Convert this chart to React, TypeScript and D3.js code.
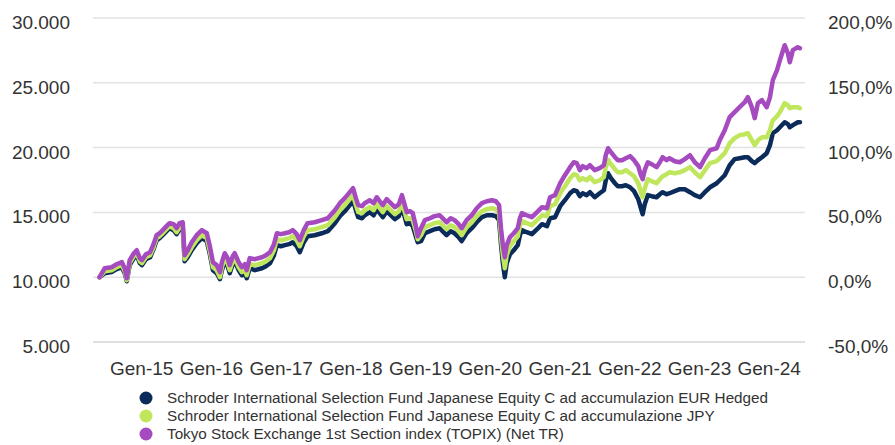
import * as d3 from "d3";
import { useEffect, useRef } from "react";

// daily NAV samples (base 10.000)
const dates = [
  "2014-05-25", "2014-06-21", "2014-07-27", "2014-08-23", "2014-09-19", "2014-10-04", "2014-10-15", "2014-10-30",
  "2014-11-21", "2014-12-06", "2014-12-22", "2015-01-02", "2015-01-23", "2015-02-14", "2015-03-04", "2015-03-20",
  "2015-04-05", "2015-04-21", "2015-05-11", "2015-05-27", "2015-06-17", "2015-07-03", "2015-07-18", "2015-08-04",
  "2015-08-14", "2015-08-30", "2015-09-20", "2015-10-16", "2015-11-12", "2015-12-08", "2015-12-23", "2016-01-09",
  "2016-01-29", "2016-02-15", "2016-02-25", "2016-03-11", "2016-03-26", "2016-04-06", "2016-04-22", "2016-05-02",
  "2016-05-23", "2016-06-09", "2016-06-24", "2016-07-04", "2016-07-20", "2016-08-16", "2016-09-22", "2016-10-13",
  "2016-11-03", "2016-11-24", "2016-12-09", "2016-12-30", "2017-01-20", "2017-02-11", "2017-03-02", "2017-03-23",
  "2017-04-08", "2017-04-29", "2017-05-19", "2017-06-25", "2017-08-01", "2017-09-02", "2017-10-09", "2017-11-04",
  "2017-11-30", "2017-12-26", "2018-01-12", "2018-01-27", "2018-02-08", "2018-02-28", "2018-03-14", "2018-04-10",
  "2018-04-30", "2018-05-16", "2018-06-01", "2018-06-17", "2018-07-07", "2018-07-23", "2018-08-19", "2018-09-09",
  "2018-09-25", "2018-10-10", "2018-10-20", "2018-11-06", "2018-11-21", "2018-12-07", "2018-12-17", "2019-01-03",
  "2019-01-23", "2019-02-19", "2019-03-15", "2019-04-11", "2019-05-01", "2019-05-17", "2019-06-08", "2019-06-28",
  "2019-07-19", "2019-08-04", "2019-08-30", "2019-09-26", "2019-10-22", "2019-11-18", "2019-12-14", "2020-01-10",
  "2020-01-30", "2020-02-16", "2020-02-26", "2020-03-07", "2020-03-17", "2020-03-27", "2020-04-13", "2020-05-03",
  "2020-05-24", "2020-06-04", "2020-06-14", "2020-07-10", "2020-08-06", "2020-09-02", "2020-09-28", "2020-10-24",
  "2020-11-09", "2020-12-05", "2021-01-01", "2021-01-26", "2021-02-22", "2021-03-13", "2021-03-29", "2021-04-14",
  "2021-04-29", "2021-05-20", "2021-06-06", "2021-07-01", "2021-07-27", "2021-08-18", "2021-08-28", "2021-09-09",
  "2021-09-24", "2021-10-15", "2021-10-30", "2021-11-21", "2021-12-11", "2022-01-02", "2022-01-23", "2022-02-14",
  "2022-02-28", "2022-03-09", "2022-03-20", "2022-04-05", "2022-04-25", "2022-05-21", "2022-06-07", "2022-06-22",
  "2022-07-13", "2022-07-28", "2022-08-24", "2022-09-20", "2022-10-16", "2022-11-12", "2022-12-07", "2023-01-04",
  "2023-01-29", "2023-02-25", "2023-04-01", "2023-04-17", "2023-05-13", "2023-06-08", "2023-07-04", "2023-07-30",
  "2023-08-26", "2023-09-11", "2023-10-02", "2023-10-17", "2023-11-03", "2023-11-24", "2023-12-19", "2024-01-05",
  "2024-01-20", "2024-02-11", "2024-02-26", "2024-03-22", "2024-04-08", "2024-04-18", "2024-05-04", "2024-05-30",
  "2024-06-10",
];

const eurHedged = [
  10000, 10310, 10390, 10620, 10770, 10310, 9690, 10930, 11470, 11700, 11080, 10930, 11390, 11540, 12160, 12850,
  13010, 13240, 13550, 13780, 13630, 13320, 13700, 13780, 11230, 11540, 12080, 12620, 13010, 12780, 11850, 10540,
  10310, 9850, 10540, 11230, 10850, 10310, 11000, 11230, 10540, 10150, 10310, 9920, 10690, 10540, 10690, 10850,
  11080, 11700, 12470, 12390, 12470, 12550, 12700, 12390, 11930, 12700, 13160, 13240, 13390, 13550, 14170, 14710,
  15090, 15560, 15940, 15170, 14630, 14550, 14780, 15020, 14780, 15250, 14940, 14630, 15090, 14860, 14480, 14710,
  15400, 14630, 14090, 14170, 13940, 13160, 12700, 12780, 13390, 13550, 13700, 13780, 13470, 13240, 13550, 13390,
  13090, 12780, 13390, 13780, 14240, 14630, 14780, 14780, 14710, 14400, 12550, 11080, 10000, 11080, 11770, 12080,
  12470, 13240, 13630, 13470, 13320, 13700, 14090, 13940, 14550, 14630, 15480, 15940, 16480, 16710, 16640, 16250,
  16480, 16330, 16560, 16170, 16480, 16710, 17480, 18020, 17640, 17250, 17020, 17020, 17100, 16940, 16640, 16020,
  15320, 14860, 15630, 16330, 16250, 16170, 16400, 16560, 16400, 16480, 16640, 16790, 16790, 16560, 16330, 16170,
  16560, 16940, 17250, 17480, 17870, 18640, 19110, 19180, 19260, 19260, 18950, 18800, 19030, 19260, 19570, 20190,
  21110, 21340, 21570, 21960, 21810, 21570, 21730, 21960, 21960,
];

const jpy = [
  10000, 10460, 10540, 10770, 10930, 10460, 9770, 11080, 11620, 11850, 11230, 11080, 11540, 11700, 12310, 13010,
  13160, 13390, 13700, 13940, 13780, 13470, 13860, 13940, 11390, 11770, 12310, 12850, 13240, 13010, 12080, 10770,
  10540, 10000, 10770, 11470, 11080, 10540, 11230, 11470, 10770, 10390, 10620, 10150, 11000, 10930, 11080, 11230,
  11470, 12080, 12930, 12850, 12930, 13010, 13160, 12850, 12390, 13160, 13630, 13700, 13860, 14010, 14630, 15170,
  15560, 16020, 16330, 15560, 15020, 14940, 15170, 15400, 15170, 15630, 15320, 15020, 15480, 15250, 14860, 15090,
  15790, 15020, 14480, 14550, 14400, 13550, 12930, 13240, 13860, 14010, 14170, 14240, 13940, 13700, 14010, 13860,
  13550, 13240, 13860, 14240, 14710, 15090, 15250, 15320, 15250, 14940, 13090, 11700, 10690, 11700, 12390, 12780,
  13160, 13940, 14320, 14170, 14010, 14400, 14780, 14710, 15480, 15630, 16480, 17020, 17640, 17950, 17870, 17480,
  17640, 17480, 17720, 17330, 17480, 17720, 18490, 19030, 18720, 18330, 18100, 18100, 18260, 18020, 17790, 17250,
  16560, 16170, 16870, 17560, 17410, 17250, 17560, 17790, 17950, 18100, 18020, 18100, 18260, 18490, 18100, 17720,
  18260, 18800, 18950, 19180, 19570, 20340, 20730, 20960, 21030, 21110, 20570, 20190, 20570, 20800, 20800, 21340,
  22110, 22420, 22730, 23430, 23270, 23040, 23120, 23120, 23040,
];

const topix = [
  10000, 10690, 10770, 11000, 11160, 10690, 9920, 11310, 11850, 12080, 11470, 11310, 11770, 11930, 12550, 13240,
  13390, 13630, 13940, 14170, 14090, 13780, 14170, 14240, 11700, 12080, 12700, 13240, 13630, 13390, 12470, 11160,
  10930, 10390, 11160, 11850, 11470, 10930, 11620, 11850, 11160, 10770, 11000, 10540, 11470, 11390, 11540, 11700,
  11930, 12550, 13390, 13320, 13390, 13470, 13630, 13320, 12850, 13630, 14170, 14240, 14400, 14550, 15170, 15710,
  16100, 16560, 16870, 16100, 15560, 15480, 15710, 15940, 15710, 16170, 15860, 15560, 16020, 15790, 15400, 15630,
  16330, 15560, 15020, 15090, 14940, 13940, 13160, 13780, 14400, 14550, 14710, 14780, 14480, 14240, 14550, 14400,
  14090, 13780, 14400, 14780, 15320, 15710, 15860, 15940, 15860, 15560, 13780, 12470, 11540, 12470, 13090, 13390,
  13780, 14550, 14940, 14780, 14630, 15020, 15400, 15320, 16170, 16330, 17250, 17870, 18490, 18870, 18800, 18260,
  18570, 18410, 18640, 18260, 18410, 18640, 19410, 19950, 19650, 19260, 19030, 19030, 19180, 19340, 19030, 18570,
  17870, 17560, 18260, 18870, 18720, 18490, 18870, 19260, 19030, 19180, 18950, 18870, 19110, 19410, 18870, 18490,
  19180, 19800, 19950, 20570, 21340, 22350, 22730, 23120, 23500, 23890, 23120, 22270, 23430, 23660, 23120, 23890,
  25200, 25970, 26740, 27900, 27280, 26590, 27520, 27750, 27670,
];

const leftTicks = [5000, 10000, 15000, 20000, 25000, 30000];
const rightTicks = [-50, 0, 50, 100, 150, 200];
const seriesNames = [
  "Schroder International Selection Fund Japanese Equity C ad accumulazion EUR Hedged",
  "Schroder International Selection Fund Japanese Equity C ad accumulazione JPY",
  "Tokyo Stock Exchange 1st Section index (TOPIX) (Net TR)",
];
const seriesColors = ["#0b2c5a", "#bfe65c", "#a54abf"];

const itNumber = d3.formatLocale({ decimal: ",", thousands: ".", grouping: [3], currency: ["€", ""], minus: "-" });
const itTime = d3.timeFormatLocale({
  dateTime: "%A %e %B %Y, %X",
  date: "%d/%m/%Y",
  time: "%H:%M:%S",
  periods: ["AM", "PM"],
  days: ["Domenica", "Lunedì", "Martedì", "Mercoledì", "Giovedì", "Venerdì", "Sabato"],
  shortDays: ["Dom", "Lun", "Mar", "Mer", "Gio", "Ven", "Sab"],
  months: ["Gennaio", "Febbraio", "Marzo", "Aprile", "Maggio", "Giugno", "Luglio", "Agosto", "Settembre", "Ottobre", "Novembre", "Dicembre"],
  shortMonths: ["Gen", "Feb", "Mar", "Apr", "Mag", "Giu", "Lug", "Ago", "Set", "Ott", "Nov", "Dic"],
});

const App = () => {
  const ref = useRef<SVGSVGElement>(null);

  useEffect(() => {
    const svg = d3.select(ref.current);
    svg.selectAll("*").remove();

    const width = 895, height = 445;
    const font = "'Liberation Sans', Arial, sans-serif";
    const parse = d3.timeParse("%Y-%m-%d");
    const time = dates.map((d) => parse(d) as Date);

    const x = d3.scaleTime()
      .domain([new Date(2015, 0, 1), new Date(2024, 0, 1)])
      .range([141.7, 769.2]);
    const y = d3.scaleLinear().domain([5000, 30000]).range([342, 18]);
    const yPct = d3.scaleLinear().domain([-50, 200]).range([342, 18]);

    svg.attr("width", width).attr("height", height);

    // gridlines
    svg.append("g")
      .selectAll("line")
      .data(leftTicks)
      .join("line")
      .attr("x1", 93)
      .attr("x2", 805)
      .attr("y1", (d) => y(d))
      .attr("y2", (d) => y(d))
      .attr("stroke", (d) => (d === 5000 ? "#d4d4d4" : "#e2e2e2"))
      .attr("stroke-width", 1.5);

    const leftFmt = itNumber.format(",.0f");
    svg.append("g")
      .selectAll("text")
      .data(leftTicks)
      .join("text")
      .attr("x", 70)
      .attr("y", (d) => y(d) + 11)
      .attr("text-anchor", "end")
      .attr("font-family", font)
      .attr("font-size", 19)
      .attr("fill", "#333")
      .text((d) => leftFmt(d));

    const rightFmt = itNumber.format(".1f");
    svg.append("g")
      .selectAll("text")
      .data(rightTicks)
      .join("text")
      .attr("x", 828)
      .attr("y", (d) => yPct(d) + 11)
      .attr("font-family", font)
      .attr("font-size", 19)
      .attr("fill", "#333")
      .text((d) => rightFmt(d) + "%");

    const xFmt = itTime.format("%b-%y");
    svg.append("g")
      .selectAll("text")
      .data(x.ticks(d3.timeYear.every(1)))
      .join("text")
      .attr("x", (d) => x(d))
      .attr("y", 375)
      .attr("text-anchor", "middle")
      .attr("font-family", font)
      .attr("font-size", 19)
      .attr("fill", "#333")
      .text((d) => xFmt(d));

    // lines: navy, green, purple on top
    const line = d3.line<number>()
      .x((d, i) => x(time[i]))
      .y((d) => y(d))
      .curve(d3.curveLinear);

    [eurHedged, jpy, topix].forEach((s, i) => {
      svg.append("path")
        .datum(s)
        .attr("d", line)
        .attr("fill", "none")
        .attr("stroke", seriesColors[i])
        .attr("stroke-width", 4.5)
        .attr("stroke-linejoin", "round")
        .attr("stroke-linecap", "round");
    });

    // legend
    const legend = svg.append("g")
      .selectAll("g")
      .data(seriesNames)
      .join("g")
      .attr("transform", (d, i) => `translate(146,${398 + i * 18})`);
    legend.append("circle")
      .attr("r", 6.5)
      .attr("fill", (d, i) => seriesColors[i]);
    legend.append("text")
      .attr("x", 21)
      .attr("y", 5)
      .attr("font-family", font)
      .attr("font-size", 15.25)
      .attr("fill", "#333")
      .text((d) => d);
  }, []);

  return (
    <div style={{ position: "absolute", left: 0, top: 0 }}>
      <svg ref={ref}></svg>
    </div>
  );
};

export default App;
